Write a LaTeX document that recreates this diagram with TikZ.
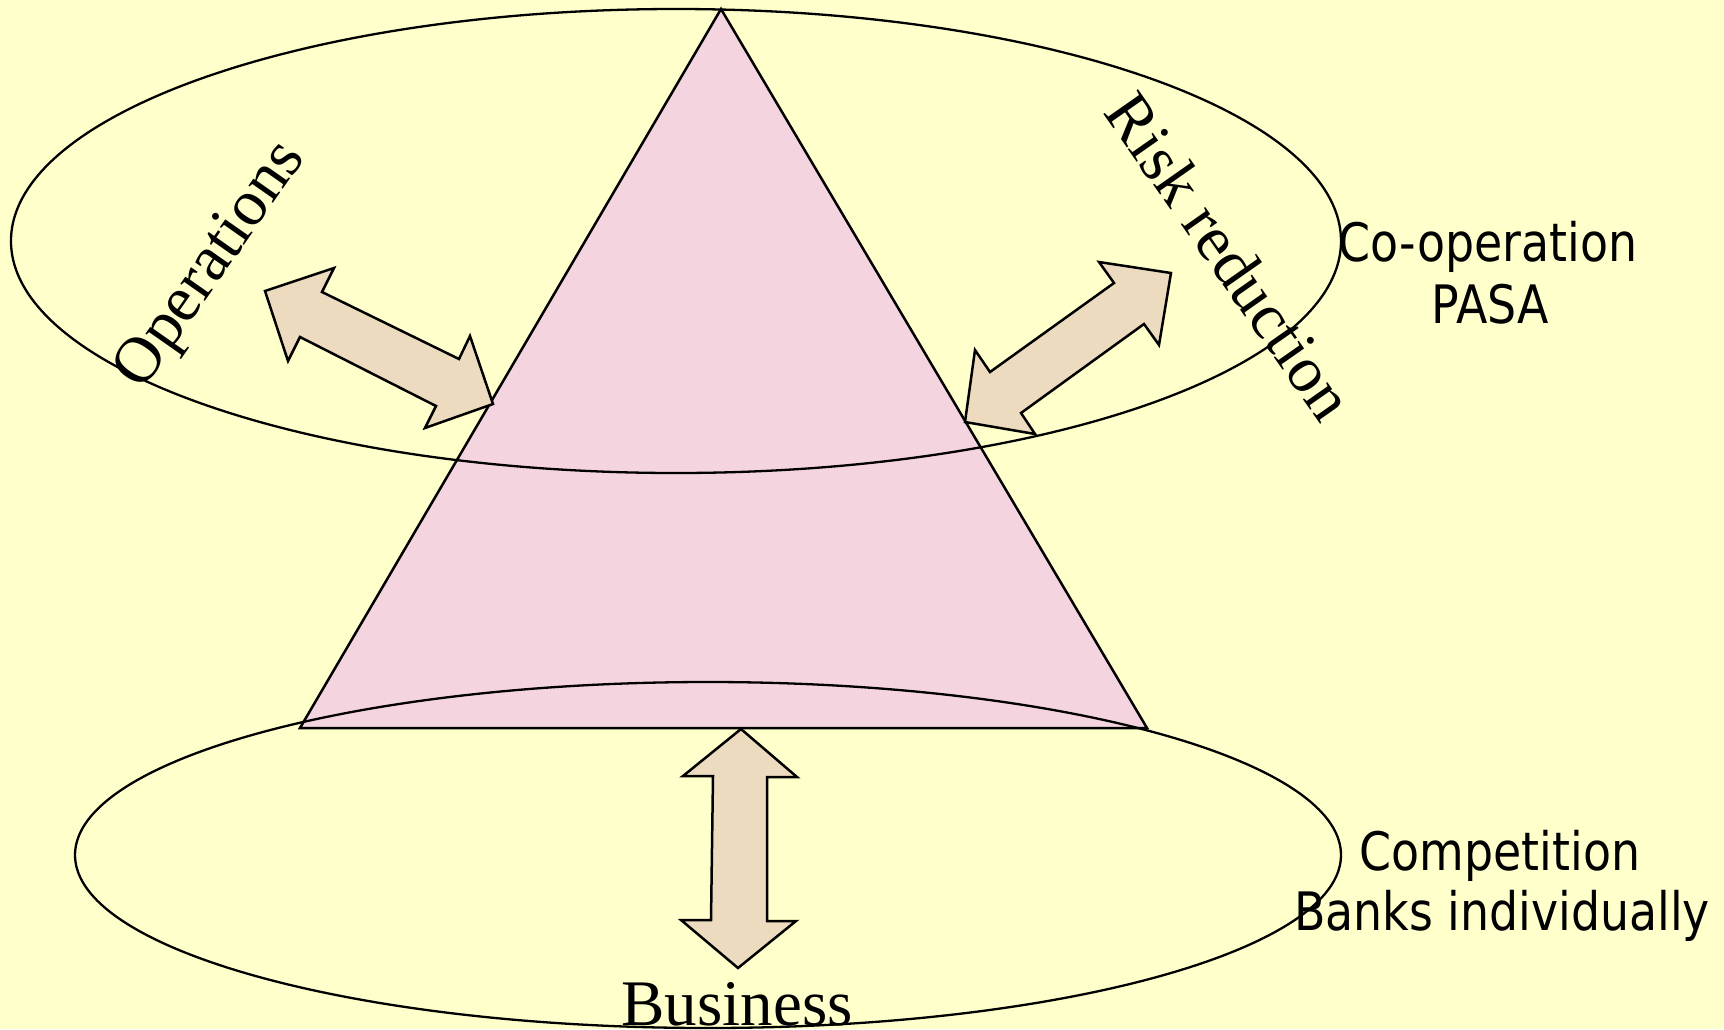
\documentclass[tikz,border=0pt]{standalone}
\usepackage{fontspec}
\newfontfamily\tahfont[FakeStretch=0.865]{DejaVu Sans}
\newfontfamily\tmsfont{Liberation Serif}
\definecolor{bgyellow}{HTML}{FFFFCC}
\definecolor{tripink}{HTML}{F4D4DF}
\definecolor{arrowtan}{HTML}{ECDBBF}
\tikzset{
  outline/.style={draw=black, line width=2.5pt, line join=miter},
  blockarrow/.style={outline, fill=arrowtan},
  ringline/.style={draw=black, line width=2.3pt},
  sanslabel/.style={inner sep=0pt, anchor=base, font=\tahfont\fontsize{53}{63}\selectfont},
  seriflabel/.style={inner sep=0pt, font=\tmsfont\fontsize{65}{75}\selectfont},
}
\begin{document}
\begin{tikzpicture}[x=1pt,y=-1pt]
\useasboundingbox (0,0) rectangle (1724,1029);
\fill[bgyellow] (0,0) rectangle (1724,1029);
% pyramid
\draw[outline, fill=tripink] (721,9) -- (1147,728) -- (300,728) -- cycle;
% ellipses
\draw[ringline] (676,241) ellipse [x radius=665pt, y radius=232pt];
\draw[ringline] (708,855) ellipse [x radius=633pt, y radius=173pt];
% block arrows
\draw[blockarrow] (265,291) -- (334,268) -- (322,292) -- (459,359) -- (470,336)
  -- (493,404) -- (425,428) -- (436,406) -- (300,337) -- (288,361) -- cycle;
\draw[blockarrow] (741,729) -- (797,777) -- (767,777) -- (767,921) -- (796,921)
  -- (738,968) -- (681,920) -- (711,920) -- (713,776) -- (683,776) -- cycle;
\draw[blockarrow] (1171,273) -- (1159,345) -- (1144,324) -- (1021,413) -- (1035,434)
  -- (965,422) -- (975,350) -- (990,372) -- (1114,283) -- (1099,262) -- cycle;
% labels
\node[seriflabel, rotate=55] (ops) at (212,266) {Operations};
\node[seriflabel, rotate=-55] (risk) at (1230,256) {Risk reduction};
\node[seriflabel, anchor=base] (bus) at (737,1025) {Business};
\node[sanslabel] (coop) at (1488,261) {Co-operation};
\node[sanslabel] (pasa) at (1490,323) {PASA};
\node[sanslabel] (comp) at (1500,870) {Competition};
\node[sanslabel] (banks) at (1502,930) {Banks individually};
\end{tikzpicture}
\end{document}
